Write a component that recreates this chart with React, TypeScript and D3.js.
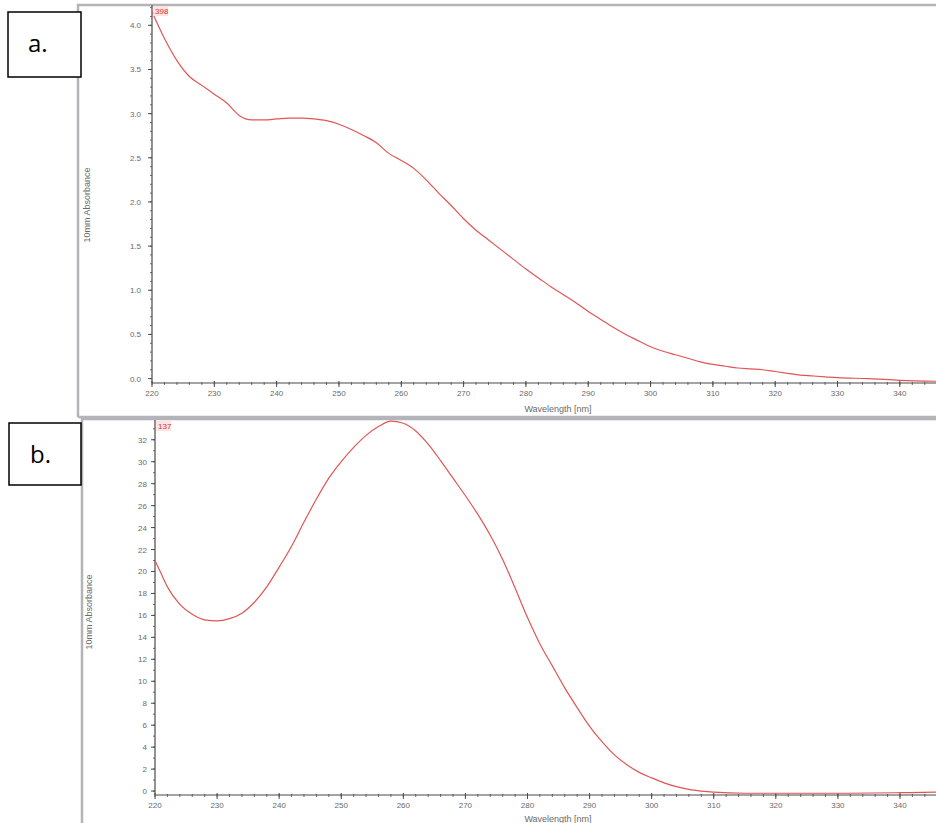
import React from "react";
import * as d3 from "d3";

// ---------- data ----------
const wavelengthA = [220, 222, 224, 226, 228, 230, 232, 234, 236, 238, 240, 242, 244, 246, 248, 250, 252, 254, 256, 258, 260, 262, 264, 266, 268, 270, 272, 274, 276, 278, 280, 282, 284, 286, 288, 290, 292, 294, 296, 298, 300, 302, 304, 306, 308, 310, 312, 314, 316, 318, 320, 322, 324, 326, 328, 330, 335, 340, 345.8];
const absorbanceA = [4.15, 3.85, 3.6, 3.42, 3.32, 3.22, 3.12, 2.98, 2.93, 2.93, 2.94, 2.95, 2.95, 2.94, 2.92, 2.88, 2.82, 2.75, 2.67, 2.55, 2.47, 2.38, 2.25, 2.1, 1.96, 1.81, 1.68, 1.57, 1.46, 1.35, 1.24, 1.14, 1.04, 0.95, 0.86, 0.76, 0.67, 0.58, 0.5, 0.43, 0.36, 0.31, 0.27, 0.23, 0.19, 0.16, 0.14, 0.12, 0.11, 0.1, 0.08, 0.06, 0.04, 0.03, 0.02, 0.01, 0.0, -0.02, -0.03];

const wavelengthB = [220, 221, 222, 224, 226, 228, 230, 232, 234, 236, 238, 240, 242, 244, 246, 248, 250, 252, 254, 256, 258, 260, 262, 264, 266, 268, 270, 272, 274, 276, 278, 280, 282, 284, 286, 288, 290, 292, 294, 296, 298, 300, 302, 304, 306, 308, 310, 315, 320, 330, 340, 345.8];
const absorbanceB = [21.0, 19.8, 18.6, 17.0, 16.1, 15.6, 15.5, 15.7, 16.2, 17.2, 18.6, 20.4, 22.3, 24.5, 26.6, 28.5, 30.0, 31.3, 32.4, 33.2, 33.7, 33.5, 32.8, 31.6, 30.1, 28.5, 26.9, 25.2, 23.3, 21.1, 18.5, 15.8, 13.4, 11.4, 9.4, 7.6, 5.9, 4.5, 3.3, 2.4, 1.7, 1.2, 0.75, 0.4, 0.15, 0.0, -0.1, -0.2, -0.2, -0.2, -0.15, -0.1];

const xTicks = [220, 230, 240, 250, 260, 270, 280, 290, 300, 310, 320, 330, 340];
const yTicksA = [0, 0.5, 1.0, 1.5, 2.0, 2.5, 3.0, 3.5, 4.0];
const yTicksB = [0, 2, 4, 6, 8, 10, 12, 14, 16, 18, 20, 22, 24, 26, 28, 30, 32];

const xTitle = "Wavelength [nm]";
const yTitle = "10mm Absorbance";
const panelLabels = ["a.", "b."];
const peakLabels = ["398", "137"];

type PanelProps = {
  frameX: number; frameY: number; frameBottom: number;
  left: number; top: number; bottom: number; right: number;
  yDomain: [number, number];
  xs: number[]; ys: number[];
  yTicks: number[]; yFmt: (v: number) => string; yMinorStep: number;
  labelEnd: number; yTitleY: number; yTitleX: number; xTitleY: number;
  peak: string;
};

const Panel = (p: PanelProps) => {
  const x = d3.scaleLinear().domain([220, 345.8]).range([p.left, p.right]);
  const y = d3.scaleLinear().domain(p.yDomain).range([p.bottom, p.top]);
  const line = d3
    .line<number>()
    .x((_, i) => x(p.xs[i]))
    .y((_, i) => y(p.ys[i]))
    .curve(d3.curveMonotoneX);
  const minorX = d3.range(220, 346, 2);
  const minorY = d3.range(0, p.yDomain[1], p.yMinorStep);
  const axisColor = "#4a4a4a";
  const textColor = "#6a6a6a";
  return (
    <g>
      {/* frame */}
      <path
        d={`M${p.frameX},${p.frameBottom} V${p.frameY} H940`}
        fill="none"
        stroke="#b4b4b8"
        strokeWidth={2.5}
      />
      {p.frameBottom < 823 && (
        <line x1={p.frameX} x2={940} y1={p.frameBottom} y2={p.frameBottom} stroke="#b4b4bc" strokeWidth={2.5} />
      )}
      {/* minor ticks */}
      {minorX.map((v) => (
        <line key={"mx" + v} x1={x(v)} x2={x(v)} y1={p.bottom - 1} y2={p.bottom + 2} stroke={axisColor} strokeWidth={0.8} />
      ))}
      {minorY.map((v, i) => (
        <line key={"my" + i} x1={p.left - 2} x2={p.left} y1={y(v)} y2={y(v)} stroke={axisColor} strokeWidth={0.8} />
      ))}
      {/* major ticks */}
      {xTicks.map((v) => (
        <line key={"x" + v} x1={x(v)} x2={x(v)} y1={p.bottom - 2} y2={p.bottom + 4} stroke={axisColor} strokeWidth={1} />
      ))}
      {p.yTicks.map((v) => (
        <line key={"y" + v} x1={p.left - 4} x2={p.left} y1={y(v)} y2={y(v)} stroke={axisColor} strokeWidth={1} />
      ))}
      {/* axes */}
      <line x1={p.left} x2={p.left} y1={p.top} y2={p.bottom} stroke={axisColor} strokeWidth={1.2} />
      <line x1={p.left} x2={940} y1={p.bottom} y2={p.bottom} stroke={axisColor} strokeWidth={1.2} />
      {/* tick labels */}
      {xTicks.map((v) => (
        <text key={"xl" + v} x={x(v)} y={p.bottom + 13} textAnchor="middle" fontSize={8} fill={textColor}>
          {v}
        </text>
      ))}
      {p.yTicks.map((v) => (
        <text key={"yl" + v} x={p.labelEnd} y={y(v) + 3} textAnchor="end" fontSize={8} fill={textColor}>
          {p.yFmt(v)}
        </text>
      ))}
      {/* titles */}
      <text x={558} y={p.xTitleY} textAnchor="middle" fontSize={9} fill={textColor}>
        {xTitle}
      </text>
      <text
        transform={`translate(${p.yTitleX},${p.yTitleY}) rotate(-90)`}
        textAnchor="middle"
        fontSize={9}
        fill={textColor}
      >
        {yTitle}
      </text>
      {/* curve */}
      <path d={line(p.ys) || ""} fill="none" stroke="#e25555" strokeWidth={1.2} />
      {/* peak label */}
      <rect x={p.left + 1} y={p.top + 1} width={15} height={10} fill="#fbe4e4" />
      <text x={p.left + 3} y={p.top + 9} fontSize={8} fill="#e03030">
        {p.peak}
      </text>
    </g>
  );
};

export default function App() {
  return (
    <svg
      width={936}
      height={823}
      style={{ position: "absolute", left: 0, top: 0, background: "#fff" }}
      fontFamily="'Liberation Sans', Arial, sans-serif"
    >
      <rect width={936} height={823} fill="#fff" />
      <Panel
        frameX={78} frameY={5} frameBottom={417}
        left={152} top={5} bottom={383} right={936}
        yDomain={[-0.05, 4.23]}
        xs={wavelengthA} ys={absorbanceA}
        yTicks={yTicksA} yFmt={(v) => v.toFixed(1)} yMinorStep={0.1}
        labelEnd={141} yTitleX={90} yTitleY={205} xTitleY={412}
        peak={peakLabels[0]}
      />
      <Panel
        frameX={82} frameY={419} frameBottom={830}
        left={155} top={420} bottom={795} right={936}
        yDomain={[-0.36, 33.8]}
        xs={wavelengthB} ys={absorbanceB}
        yTicks={yTicksB} yFmt={(v) => String(v)} yMinorStep={1}
        labelEnd={147} yTitleX={92} yTitleY={612} xTitleY={822}
        peak={peakLabels[1]}
      />
      {/* panel letter boxes */}
      <rect x={8} y={12} width={73} height={65} fill="#fff" stroke="#000" strokeWidth={1.5} />
      <text x={28} y={52} fontSize={24} fontFamily="'Open Sans', 'Liberation Sans', sans-serif" fill="#000">
        {panelLabels[0]}
      </text>
      <rect x={9} y={423} width={72} height={62} fill="#fff" stroke="#000" strokeWidth={1.5} />
      <text x={30} y={463} fontSize={24} fontFamily="'Open Sans', 'Liberation Sans', sans-serif" fill="#000">
        {panelLabels[1]}
      </text>
    </svg>
  );
}
